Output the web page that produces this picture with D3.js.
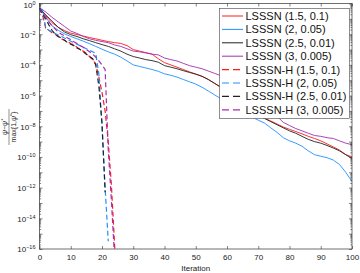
<!DOCTYPE html>
<html>
<head>
<meta charset="utf-8">
<script src="https://cdn.jsdelivr.net/npm/d3@7"></script>
<style>
body{margin:0;background:#fff}
text{font-family:"Liberation Sans",Arial,sans-serif}
</style>
</head>
<body>
<div id="chart"></div>
<script>
// iterations for the solid (LSSSN) runs
var iterSolid=[0,2,4,6,8,10,12,14,16,18,20,22,24,26,28,30,32,34,36,38,40,42,44,46,48,50,
  52,54,56,58,60,62,64,66,68,70,72,74,76,78,80,82,84,86,88,90,92,94,96,98,100];

var lsssn15=[4.9e-1,1.6e-1,5.6e-2,2.8e-2,1.7e-2,1.17e-2,9.5e-3,7.6e-3,6.0e-3,5.0e-3,4.0e-3,3.3e-3,
  2.8e-3,2.5e-3,1.8e-3,1.0e-3,7.9e-4,6.3e-4,5.0e-4,2.5e-4,1.4e-4,1.0e-4,7.1e-5,5.0e-5,3.5e-5,2.5e-5,
  1.8e-5,1.12e-5,6.3e-6,3.5e-6,2.0e-6,1.12e-6,6.3e-7,3.2e-7,1.6e-7,7.9e-8,3.5e-8,2.2e-8,1.4e-8,8.9e-9,
  6.3e-9,4.5e-9,3.2e-9,2.2e-9,1.6e-9,1.12e-9,7.1e-10,4.5e-10,2.8e-10,1.4e-10,1.0e-10];
var lsssn2=[4.9e-1,1.26e-1,3.5e-2,1.8e-2,1.05e-2,7.1e-3,5.0e-3,3.5e-3,2.4e-3,1.6e-3,1.05e-3,7.1e-4,
  5.0e-4,3.2e-4,1.8e-4,1.0e-4,7.9e-5,6.3e-5,5.0e-5,3.8e-5,2.6e-5,2.1e-5,1.6e-5,1.12e-5,7.9e-6,5.6e-6,
  3.5e-6,2.0e-6,1.12e-6,6.3e-7,3.5e-7,2.0e-7,1.12e-7,7.1e-8,4.0e-8,2.5e-8,1.6e-8,7.9e-9,4.0e-9,1.8e-9,
  1.12e-9,7.9e-10,5.0e-10,2.5e-10,1.4e-10,1.12e-10,8.9e-11,6.3e-11,3.2e-11,1.0e-11,2.5e-12];
var lsssn25=[4.9e-1,1.8e-1,7.1e-2,2.8e-2,1.4e-2,9.3e-3,7.1e-3,5.0e-3,3.8e-3,2.8e-3,2.1e-3,1.6e-3,
  1.12e-3,7.9e-4,5.0e-4,3.5e-4,2.8e-4,2.2e-4,1.9e-4,1.5e-4,8.9e-5,7.1e-5,5.6e-5,4.2e-5,3.2e-5,2.5e-5,
  1.8e-5,1.12e-5,6.3e-6,3.5e-6,2.0e-6,1.0e-6,5.0e-7,2.2e-7,1.0e-7,5.0e-8,3.2e-8,2.0e-8,1.26e-8,7.9e-9,
  5.0e-9,3.5e-9,2.2e-9,1.4e-9,1.0e-9,7.9e-10,5.6e-10,3.8e-10,2.5e-10,1.4e-10,7.9e-11];
var lsssn3=[4.9e-1,2.8e-1,1.26e-1,6.3e-2,3.2e-2,1.6e-2,1.12e-2,7.1e-3,5.0e-3,4.0e-3,3.3e-3,2.8e-3,
  2.0e-3,1.6e-3,1.12e-3,7.9e-4,7.1e-4,6.0e-4,5.0e-4,4.5e-4,2.8e-4,2.2e-4,1.8e-4,1.26e-4,8.9e-5,7.1e-5,
  5.6e-5,4.0e-5,2.8e-5,2.0e-5,1.12e-5,6.3e-6,3.2e-6,1.6e-6,7.9e-7,4.5e-7,2.0e-7,1.0e-7,4.5e-8,1.8e-8,
  1.12e-8,7.1e-9,5.0e-9,3.5e-9,2.5e-9,2.2e-9,1.8e-9,1.6e-9,1.12e-9,7.9e-10,6.3e-10];

// hybrid runs, one value per iteration starting at 0
var lsssnH15=[4.9e-1,1.6e-1,2.5e-2,1.8e-2,1.26e-2,1.0e-2,7.1e-3,5.0e-3,4.0e-3,3.2e-3,2.5e-3,2.0e-3,
  1.4e-3,1.0e-3,7.9e-4,5.6e-4,3.5e-4,2.2e-4,1.12e-4,1.6e-5,1.6e-6,1.0e-7,1.0e-9,1.6e-12,2.5e-16,3.2e-20];
var lsssnH2=[4.9e-1,4.0e-1,2.5e-2,1.8e-2,1.4e-2,1.12e-2,8.9e-3,7.1e-3,5.6e-3,4.5e-3,3.5e-3,2.8e-3,
  2.2e-3,1.8e-3,1.4e-3,1.12e-3,8.9e-4,7.1e-4,5.6e-4,2.5e-5,1.0e-8,1.0e-12,3.2e-16];
var lsssnH25=[4.9e-1,2.0e-1,1.0e-1,4.0e-2,1.8e-2,1.0e-2,7.1e-3,5.6e-3,4.0e-3,2.8e-3,2.2e-3,1.8e-3,
  1.26e-3,1.0e-3,7.1e-4,5.0e-4,3.5e-4,2.5e-4,1.0e-4,4.0e-6,1.6e-8,5.0e-13];
var lsssnH3=[4.9e-1,2.5e-1,1.26e-1,6.3e-2,3.5e-2,2.2e-2,1.4e-2,1.0e-2,7.9e-3,5.6e-3,4.5e-3,3.2e-3,
  2.5e-3,1.8e-3,1.4e-3,1.0e-3,7.1e-4,5.0e-4,3.2e-4,1.8e-4,1.0e-4,5.0e-5,3.2e-10,1.6e-13,3.2e-17];

var seriesNames=["LSSSN (1.5, 0.1)","LSSSN (2, 0.05)","LSSSN (2.5, 0.01)","LSSSN (3, 0.005)",
  "LSSSN-H (1.5, 0.1)","LSSSN-H (2, 0.05)","LSSSN-H (2.5, 0.01)","LSSSN-H (3, 0.005)"];
var xTicks=[0,10,20,30,40,50,60,70,80,90,100];
var yExps=[0,-1,-2,-3,-4,-5,-6,-7,-8,-9,-10,-11,-12,-13,-14,-15,-16];

var colors=["#ff1a1a","#1f8fff","#222222","#a22fb0"];

var W=360,H=273;
var L=39.5,R=352,T=3.5,B=249;

var x=d3.scaleLinear().domain([0,100]).range([L,R]);
var y=d3.scaleLog().domain([1e-16,1]).range([B,T]);

var svg=d3.select("#chart").append("svg")
	.attr("width",W)
	.attr("height",H);

svg.append("clipPath").attr("id","clip")
	.append("rect")
	.attr("x",L).attr("y",T)
	.attr("width",R-L).attr("height",B-T);

// build series list
var series=[];
var solids=[lsssn15,lsssn2,lsssn25,lsssn3];
solids.forEach(function(v,k){
	series.push({name:seriesNames[k],color:colors[k],dash:null,
		pts:v.map(function(d,i){return [iterSolid[i],d];})});
});
var hyb=[lsssnH15,lsssnH2,lsssnH25,lsssnH3];
hyb.forEach(function(v,k){
	series.push({name:seriesNames[k+4],color:colors[k],dash:"5,3",
		pts:v.map(function(d,i){return [i,d];})});
});

var line=d3.line()
	.x(function(d){return x(d[0]);})
	.y(function(d){return y(d[1]);});

var g=svg.append("g").attr("clip-path","url(#clip)");
g.selectAll("path")
	.data(series)
	.enter()
	.append("path")
	.attr("d",function(d){return line(d.pts);})
	.attr("fill","none")
	.attr("stroke",function(d){return d.color;})
	.attr("stroke-width",function(d){return d.dash?1.2:0.9;})
	.attr("stroke-dasharray",function(d){return d.dash;});

// minor tick values for the log axis
var minor=[];
yExps.forEach(function(e){
	if(e<0){ for(var k=2;k<10;k++) minor.push(k*Math.pow(10,e)); }
});
var major=yExps.map(function(e){return Math.pow(10,e);});

function styleAxis(sel){
	sel.select(".domain").remove();
	sel.selectAll("line").attr("stroke","#333").attr("stroke-width",0.6);
	sel.selectAll("text").attr("font-size",8).attr("fill","#222")
		.attr("font-family","'Liberation Sans',Arial,sans-serif");
}

svg.append("g").attr("transform","translate(0,"+B+")")
	.call(d3.axisBottom(x).tickValues(xTicks).tickSizeInner(-3).tickSizeOuter(0).tickPadding(5))
	.call(styleAxis);
svg.append("g").attr("transform","translate(0,"+T+")")
	.call(d3.axisTop(x).tickValues(xTicks).tickSizeInner(-3).tickSizeOuter(0).tickFormat(""))
	.call(styleAxis);

var yl=svg.append("g").attr("transform","translate("+L+",0)")
	.call(d3.axisLeft(y).tickValues(major).tickSizeInner(-3).tickSizeOuter(0).tickPadding(4).tickFormat(""))
	.call(styleAxis);
svg.append("g").attr("transform","translate("+L+",0)")
	.call(d3.axisLeft(y).tickValues(minor).tickSizeInner(-1.6).tickSizeOuter(0).tickFormat(""))
	.call(styleAxis);
svg.append("g").attr("transform","translate("+R+",0)")
	.call(d3.axisRight(y).tickValues(major).tickSizeInner(-3).tickSizeOuter(0).tickFormat(""))
	.call(styleAxis);
svg.append("g").attr("transform","translate("+R+",0)")
	.call(d3.axisRight(y).tickValues(minor).tickSizeInner(-1.6).tickSizeOuter(0).tickFormat(""))
	.call(styleAxis);

// y tick labels 10^n, every second decade
yl.selectAll(".tick").each(function(d){
	var e=Math.round(Math.log10(d));
	if(e%2!==0) return;
	var t=d3.select(this).append("text")
		.attr("x",-4)
		.attr("dy",e===0?"0.55em":"0.35em")
		.attr("text-anchor","end")
		.attr("font-size",8)
		.attr("fill","#222");
	t.append("tspan").text("10");
	t.append("tspan").attr("dy",-3).attr("font-size",5.5).text(String(e).replace("-","\u2212"));
});

// frame
svg.append("rect")
	.attr("x",L).attr("y",T)
	.attr("width",R-L).attr("height",B-T)
	.attr("fill","none")
	.attr("stroke","#333")
	.attr("stroke-width",0.7);

svg.append("text")
	.attr("x",(L+R)/2)
	.attr("y",271)
	.attr("text-anchor","middle")
	.attr("font-size",8)
	.attr("fill","#222")
	.text("Iteration");

// y label as a fraction, rotated
var yg=svg.append("g").attr("transform","translate(9,127) rotate(-90)");
var num=yg.append("text").attr("x",0).attr("y",-2).attr("text-anchor","middle")
	.attr("font-size",7).attr("fill","#222").attr("font-style","italic");
num.append("tspan").text("\u03c8\u2212\u03c8");
num.append("tspan").attr("dy",-2.5).attr("font-size",5).text("*");
yg.append("line").attr("x1",-18).attr("x2",18).attr("y1",0).attr("y2",0)
	.attr("stroke","#222").attr("stroke-width",0.5);
var den=yg.append("text").attr("x",0).attr("y",7).attr("text-anchor","middle")
	.attr("font-size",7).attr("fill","#222");
den.append("tspan").text("max{1,");
den.append("tspan").attr("font-style","italic").text("\u03c8");
den.append("tspan").attr("dy",-2.5).attr("font-size",5).text("*");
den.append("tspan").attr("dy",2.5).text("}");

// legend
var lg=svg.append("g");
lg.append("rect")
	.attr("x",219.5).attr("y",8.5)
	.attr("width",130).attr("height",110)
	.attr("fill","#fff")
	.attr("stroke","#444")
	.attr("stroke-width",0.6);
var rows=lg.selectAll("g.row")
	.data(series)
	.enter()
	.append("g")
	.attr("transform",function(d,i){return "translate(0,"+(16+i*13.4)+")";});
rows.append("line")
	.attr("x1",222).attr("x2",243)
	.attr("y1",0).attr("y2",0)
	.attr("stroke",function(d){return d.color;})
	.attr("stroke-width",function(d){return d.dash?1.2:1;})
	.attr("stroke-dasharray",function(d){return d.dash?"7,4":null;});
rows.append("text")
	.attr("x",245.5)
	.attr("dy","0.36em")
	.attr("font-size",11)
	.attr("fill","#111")
	.text(function(d){return d.name;});
</script>
</body>
</html>
